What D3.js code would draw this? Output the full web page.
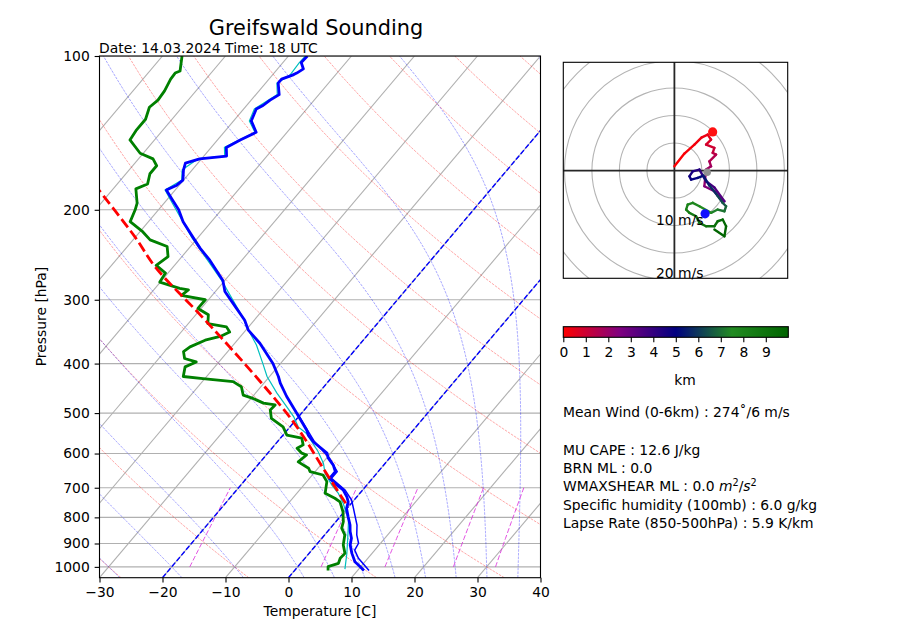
<!DOCTYPE html>
<html><head><meta charset="utf-8">
<script src="https://cdn.jsdelivr.net/npm/d3@7"></script>
<style>
body{margin:0;background:#fff;}
svg{display:block;font-family:"DejaVu Sans",sans-serif;}
</style></head><body>
<svg id="c" width="900" height="621"></svg>
<script>
// ---------------- data ----------------
const pressureTicks = [100,200,300,400,500,600,700,800,900,1000];
const tempTicks = [-30,-20,-10,0,10,20,30,40];

const tempP = [1016,999,977,941,906,879,853,828,798,768,746,729,707,691,671,651,632,613,599,569,552,540,500,464,437,424,400,365,344,329,305,289,275,251,238,227,211,200,191,183,179,175,167,162,159,157,151,146,141,134,127,125,122,119,113,111,109,108,106,103,100];
const tempT = [11.0,9.9,8.4,6.8,5.4,4.7,3.6,2.7,1.3,-0.1,-0.7,-1.6,-3.1,-4.8,-6.8,-6.8,-8.0,-9.7,-10.6,-14.3,-16.0,-16.9,-20.8,-24.6,-27.4,-28.6,-31.2,-36.0,-39.6,-41.5,-45.6,-48.5,-50.3,-55.1,-58.2,-60.7,-64.5,-66.8,-69.2,-71.4,-70.4,-70.1,-71.4,-72.0,-70.3,-66.4,-67.6,-66.4,-64.9,-67.2,-68.0,-67.4,-67.0,-66.3,-68.0,-68.0,-66.8,-66.4,-65.9,-67.1,-67.0];

const dewP = [1016,999,984,962,941,906,866,840,816,780,746,734,718,681,661,651,641,623,604,599,586,577,560,552,532,512,493,482,478,468,461,444,434,428,424,406,397,391,379,371,360,354,347,339,334,321,312,300,294,287,285,277,266,257,247,236,229,221,211,200,194,182,178,170,164,159,155,146,140,133,126,122,117,111,108,107,100];
const dewT = [5.3,4.8,6.0,5.6,5.7,4.3,3.2,1.8,1.2,-0.2,-2.0,-3.3,-5.5,-6.8,-8.3,-10.8,-11.5,-14.0,-13.6,-14.6,-16.0,-15.5,-16.6,-19.4,-21.1,-24.1,-25.4,-25.3,-27.4,-29.7,-31.7,-33.1,-35.1,-40.3,-43.7,-44.7,-43.6,-45.9,-47.0,-46.6,-45.1,-43.2,-42.3,-43.5,-46.9,-48.0,-50.5,-50.5,-54.9,-54.5,-56.1,-60.1,-60.4,-62.9,-62.2,-63.7,-67.3,-69.5,-72.9,-73.7,-74.3,-76.4,-75.2,-76.2,-76.2,-77.7,-80.5,-83.9,-84.2,-84.2,-85.2,-84.8,-85.0,-85.6,-85.7,-85.2,-86.9];

const wetbulbP = [1010,941,860,810,751,718,691,656,627,595,548,532,508,486,457,424,400,368,339,326,275,227,191,183,175,167,159,157,151,141,134,127,119,113,109,103,100];
const wetbulbT = [7.8,6.0,3.5,1.8,-1.3,-3.4,-5.6,-8.2,-9.8,-12.2,-16.5,-18.7,-20.8,-23.2,-26.6,-30.4,-32.8,-36.3,-40.3,-42.0,-50.5,-60.9,-69.5,-71.6,-70.3,-71.6,-70.6,-66.7,-67.9,-65.1,-67.5,-68.3,-66.6,-68.2,-67.2,-67.4,-67.3];

const virtP = [1016,962,927,899,866,828,768,740,707,671,651,613,569,500];
const virtT = [11.8,8.5,6.8,6.5,5.1,3.8,1.0,-0.4,-2.8,-6.5,-6.5,-9.5,-14.1,-20.7];

const parcelP = [751,641,565,516,447,376,319,259,226,183];
const parcelT = [-0.9,-9.2,-15.7,-20.6,-29.0,-39.5,-49.7,-62.8,-70.1,-82.1];

const dryT0 = d3.range(-30, 201, 20);
const moistT0 = [-30,-20,-10,0,5,10,15,20,25,30,35,40];
const mixRatios = [0.001,0.005,0.01,0.02,0.03];
const highlightIso = [-20, 0];

const hodoH = [0,0.1,0.2,0.3,0.4,0.6,0.8,1.0,1.2,1.4,1.6,1.8,2.0,2.3,2.6,2.9,3.2,3.5,3.8,4.2,4.4,4.6,4.8,5.0,5.2,5.6,6.0,6.4,6.7,7.0,7.2,7.4,7.6,7.8,8.0,8.2,8.4,8.6,8.8,9.0,9.2,9.4,9.6,9.8,9.9,10.0];
const hodoU = [0,1.82,3.64,4.91,6.05,6.67,5.76,7.27,6.96,7.58,6.36,6.67,5.76,5.45,7.27,8.18,9.09,7.27,5.76,4.55,3.33,2.73,3.04,4.24,5.27,6.36,7.82,8.73,9.4,9.09,7.87,6.67,4.55,3.33,2.42,2.13,2.73,3.95,4.55,5.76,7.27,7.87,8.78,9.4,9.09,7.27];
const hodoV = [0.78,3.09,4.73,6.0,6.55,5.64,4.73,4.13,3.22,2.91,1.69,0.78,0.18,-2.85,-3.76,-4.96,-5.58,-3.09,-1.95,0.18,-0.13,-1.04,-1.64,-1.33,-0.91,-2.73,-4.55,-5.82,-6.49,-7.4,-7.09,-7.69,-6.49,-5.87,-6.18,-7.09,-7.69,-8.31,-9.51,-10.13,-10.13,-9.22,-8.91,-10.13,-11.95,-10.73];
const markerU = [6.96, 5.95, 5.58];
const markerV = [7.04, -0.31, -7.87];
const markerColor = ['#ff1010','#909090','#1010ff'];
const markerR = [4.6, 3.8, 4.6];
const hodoRings = [5,10,15,20,25,30];

const cmapStops = [0,2.5,5,7.5,10];
const cmapColors = ['#ff0000','#800080','#000080','#228b22','#006400'];
const cbarTicks = [0,1,2,3,4,5,6,7,8,9];

const infoLines = [
  'Mean Wind (0-6km) : 274\u02DA/6 m/s',
  'MU CAPE : 12.6 J/kg',
  'BRN ML : 0.0',
  'WMAXSHEAR ML : 0.0 ',
  'Specific humidity (100mb) : 6.0 g/kg',
  'Lapse Rate (850-500hPa) : 5.9 K/km'
];

// ---------------- layout ----------------
const FS = 13.89;
const svg = d3.select('#c');
const X0 = 99.5, X1 = 540.5, Y0 = 56, Y1 = 577.7;
const W = X1 - X0, H = Y1 - Y0;
const xT = d3.scaleLinear().domain([-30, 40]).range([X0, X1]);
const yP = d3.scaleLog().domain([1050, 100]).range([Y1, Y0]);
const sx = (T, p) => xT(T) + (Y1 - yP(p)) * (W / H);
const line = d3.line().x(d => sx(d[0], d[1])).y(d => yP(d[1]));

const defs = svg.append('defs');
defs.append('clipPath').attr('id', 'clipMain')
  .append('rect').attr('x', X0).attr('y', Y0).attr('width', W).attr('height', H);

const gMain = svg.append('g').attr('clip-path', 'url(#clipMain)');
const pres = d3.range(0, 96).map(i => 1050 - i * 10).concat([100]);

// horizontal grid
gMain.selectAll('.hg').data(pressureTicks).join('line')
  .attr('x1', X0).attr('x2', X1).attr('y1', d => yP(d)).attr('y2', d => yP(d))
  .attr('stroke', '#b0b0b0').attr('stroke-width', 1.1);
// skewed isotherm grid
gMain.selectAll('.ig').data(d3.range(-110, 41, 10)).join('line')
  .attr('x1', d => sx(d, 1050)).attr('y1', yP(1050)).attr('x2', d => sx(d, 100)).attr('y2', yP(100))
  .attr('stroke', '#b0b0b0').attr('stroke-width', 1.1);

// dry adiabats
const Rd = 287.04749, Cp = 1004.6662, Lv = 2.50084e6, EPS = 0.621957;
gMain.selectAll('.dry').data(dryT0).join('path')
  .attr('d', t0 => line(pres.map(p => [(t0 + 273.15) * Math.pow(p / 1000, Rd / Cp) - 273.15, p])))
  .attr('fill', 'none').attr('stroke', '#ff0000').attr('stroke-opacity', 0.5)
  .attr('stroke-width', 0.7).attr('stroke-dasharray', '2.6,1.1');

// moist adiabats (numerical integration)
function es(T) { const t = T - 273.15; return 6.112 * Math.exp(17.67 * t / (t + 243.5)); }
function dTdp(p, T) {
  const e = es(T); const rs = EPS * e / (p - e);
  return (1 / p) * (Rd * T + Lv * rs) / (Cp + (Lv * Lv * rs * EPS) / (Rd * T * T));
}
function moistProfile(t0) {
  const K0 = t0 + 273.15;
  function integ(pEnd, step) {
    let p = 1000, T = K0; const pts = [[T - 273.15, p]];
    while ((step < 0 && p > pEnd) || (step > 0 && p < pEnd)) {
      let h = step; if (step < 0 && p + h < pEnd) h = pEnd - p; if (step > 0 && p + h > pEnd) h = pEnd - p;
      const k1 = dTdp(p, T), k2 = dTdp(p + h / 2, T + h / 2 * k1), k3 = dTdp(p + h / 2, T + h / 2 * k2), k4 = dTdp(p + h, T + h * k3);
      T += h / 6 * (k1 + 2 * k2 + 2 * k3 + k4); p += h;
      pts.push([T - 273.15, p]);
    }
    return pts;
  }
  const up = integ(100, -2), down = integ(1050, 2);
  return down.reverse().concat(up.slice(1));
}
gMain.selectAll('.moist').data(moistT0).join('path')
  .attr('d', t0 => line(moistProfile(t0)))
  .attr('fill', 'none').attr('stroke', '#0000ff').attr('stroke-opacity', 0.5)
  .attr('stroke-width', 0.7).attr('stroke-dasharray', '2.6,1.1');

// mixing ratio lines
const mixP = d3.range(1000, 699, -10);
function dewFromW(w, p) { const e = w * p / (EPS + w); const v = Math.log(e / 6.112); return 243.5 * v / (17.67 - v); }
gMain.selectAll('.mix').data(mixRatios).join('path')
  .attr('d', w => line(mixP.map(p => [dewFromW(w, p), p])))
  .attr('fill', 'none').attr('stroke', '#dd33dd').attr('stroke-opacity', 0.85)
  .attr('stroke-width', 1).attr('stroke-dasharray', '5,2.2');

// highlighted isotherms
gMain.selectAll('.hiso').data(highlightIso).join('line')
  .attr('x1', d => sx(d, 1050)).attr('y1', yP(1050)).attr('x2', d => sx(d, 100)).attr('y2', yP(100))
  .attr('stroke', '#0000ff').attr('stroke-width', 1.4).attr('stroke-dasharray', '5.1,2.2');

// profiles
const zip = (P, T) => P.map((p, i) => [T[i], p]);
gMain.append('path').attr('d', line(zip(wetbulbP, wetbulbT)))
  .attr('fill', 'none').attr('stroke', '#00bfbf').attr('stroke-width', 1.2);
gMain.append('path').attr('d', line(zip(virtP, virtT)))
  .attr('fill', 'none').attr('stroke', '#0000ff').attr('stroke-width', 1.5);
gMain.append('path').attr('d', line(zip(tempP, tempT)))
  .attr('fill', 'none').attr('stroke', '#0000ff').attr('stroke-width', 2.8).attr('stroke-linejoin', 'round');
gMain.append('path').attr('d', line(zip(dewP, dewT)))
  .attr('fill', 'none').attr('stroke', '#008000').attr('stroke-width', 2.8).attr('stroke-linejoin', 'round');
gMain.append('path').attr('d', d3.line().x(d => sx(d[0], d[1])).y(d => yP(d[1])).curve(d3.curveCatmullRom)(zip(parcelP, parcelT)))
  .attr('fill', 'none').attr('stroke', '#ff0000').attr('stroke-width', 2.8).attr('stroke-dasharray', '10.3,4.4');

// frame
svg.append('rect').attr('x', X0).attr('y', Y0).attr('width', W).attr('height', H)
  .attr('fill', 'none').attr('stroke', '#000').attr('stroke-width', 1.1);

// axes
const TL = 4.86;
const axL = svg.append('g').attr('transform', `translate(${X0},0)`)
  .call(d3.axisLeft(yP).tickValues(pressureTicks).tickFormat(d3.format('d')).tickSize(TL).tickPadding(TL));
const axB = svg.append('g').attr('transform', `translate(0,${Y1})`)
  .call(d3.axisBottom(xT).tickValues(tempTicks).tickSize(TL).tickPadding(TL));
[axL, axB].forEach(a => {
  a.attr('font-family', 'DejaVu Sans').attr('font-size', FS);
  a.select('.domain').remove();
  a.selectAll('line').attr('stroke', '#000').attr('stroke-width', 1.1);
  a.selectAll('text').attr('fill', '#000');
});

svg.append('text').attr('x', 316).attr('y', 35).attr('text-anchor', 'middle')
  .attr('font-size', 20.83).text('Greifswald Sounding');
svg.append('text').attr('x', 99).attr('y', 53).attr('font-size', FS)
  .text('Date: 14.03.2024 Time: 18 UTC');
svg.append('text').attr('x', 320).attr('y', 616).attr('text-anchor', 'middle')
  .attr('font-size', FS).text('Temperature [C]');
svg.append('text').attr('transform', 'translate(46,316.5) rotate(-90)').attr('text-anchor', 'middle')
  .attr('font-size', FS).text('Pressure [hPa]');

// ---------------- hodograph ----------------
const HX0 = 563.3, HX1 = 787.7, HY0 = 62.3, HY1 = 278.3;
const hx = d3.scaleLinear().domain([-20.2, 20.6]).range([HX0, HX1]);
const hy = d3.scaleLinear().domain([-19.6, 19.7]).range([HY1, HY0]);
defs.append('clipPath').attr('id', 'clipHodo')
  .append('rect').attr('x', HX0).attr('y', HY0).attr('width', HX1 - HX0).attr('height', HY1 - HY0);
const gH = svg.append('g').attr('clip-path', 'url(#clipHodo)');
gH.selectAll('circle.ring').data(hodoRings).join('circle')
  .attr('cx', hx(0)).attr('cy', hy(0)).attr('r', d => hx(d) - hx(0))
  .attr('fill', 'none').attr('stroke', '#b4b4b4').attr('stroke-width', 1.1);
gH.append('line').attr('x1', HX0).attr('x2', HX1).attr('y1', hy(0)).attr('y2', hy(0))
  .attr('stroke', '#262626').attr('stroke-width', 1.8);
gH.append('line').attr('y1', HY0).attr('y2', HY1).attr('x1', hx(0)).attr('x2', hx(0))
  .attr('stroke', '#262626').attr('stroke-width', 1.8);

const cmap = d3.scaleLinear().domain(cmapStops).range(cmapColors).interpolate(d3.interpolateRgb);
const segs = d3.range(hodoH.length - 1);
gH.selectAll('line.seg').data(segs).join('line')
  .attr('x1', i => hx(hodoU[i])).attr('y1', i => hy(hodoV[i]))
  .attr('x2', i => hx(hodoU[i + 1])).attr('y2', i => hy(hodoV[i + 1]))
  .attr('stroke', i => cmap((hodoH[i] + hodoH[i + 1]) / 2))
  .attr('stroke-width', 2.4).attr('stroke-linecap', 'round');
gH.selectAll('circle.mk').data(markerU).join('circle')
  .attr('cx', (d, i) => hx(markerU[i])).attr('cy', (d, i) => hy(markerV[i]))
  .attr('r', (d, i) => markerR[i]).attr('fill', (d, i) => markerColor[i]);

svg.append('rect').attr('x', HX0).attr('y', HY0).attr('width', HX1 - HX0).attr('height', HY1 - HY0)
  .attr('fill', 'none').attr('stroke', '#000').attr('stroke-width', 1.1);
svg.append('text').attr('x', 656).attr('y', 224.5).attr('font-size', FS).text('10 m/s');
svg.append('text').attr('x', 656).attr('y', 277.5).attr('font-size', FS).text('20 m/s');

// ---------------- colorbar ----------------
const CB0 = 563.3, CB1 = 788.3, CBY = 326.7, CBH = 10.6;
const grad = defs.append('linearGradient').attr('id', 'cbg');
cmapStops.forEach((s, i) => grad.append('stop').attr('offset', (s / 10 * 100) + '%').attr('stop-color', cmapColors[i]));
svg.append('rect').attr('x', CB0).attr('y', CBY).attr('width', CB1 - CB0).attr('height', CBH)
  .attr('fill', 'url(#cbg)').attr('stroke', '#000').attr('stroke-width', 1.1);
const cbs = d3.scaleLinear().domain([0, 10]).range([CB0, CB1]);
const axC = svg.append('g').attr('transform', `translate(0,${CBY + CBH})`)
  .call(d3.axisBottom(cbs).tickValues(cbarTicks).tickFormat(d3.format('d')).tickSize(TL).tickPadding(TL));
axC.attr('font-family', 'DejaVu Sans').attr('font-size', FS);
axC.select('.domain').remove();
axC.selectAll('line').attr('stroke', '#000').attr('stroke-width', 1.1);
axC.selectAll('text').attr('fill', '#000');
svg.append('text').attr('x', 685).attr('y', 385).attr('text-anchor', 'middle').attr('font-size', FS).text('km');

// ---------------- info text ----------------
const infoY = [417, 455, 473, 491, 509.5, 528];
infoLines.forEach((t, i) => {
  const tx = svg.append('text').attr('x', 563).attr('y', infoY[i]).attr('font-size', FS).text(t);
  if (i === 3) {
    tx.append('tspan').attr('font-style', 'italic').text('m');
    tx.append('tspan').attr('font-size', FS * 0.7).attr('dy', -5).text('2');
    tx.append('tspan').attr('dy', 5).text('/');
    tx.append('tspan').attr('font-style', 'italic').text('s');
    tx.append('tspan').attr('font-size', FS * 0.7).attr('dy', -5).text('2');
  }
});
</script>
</body></html>
